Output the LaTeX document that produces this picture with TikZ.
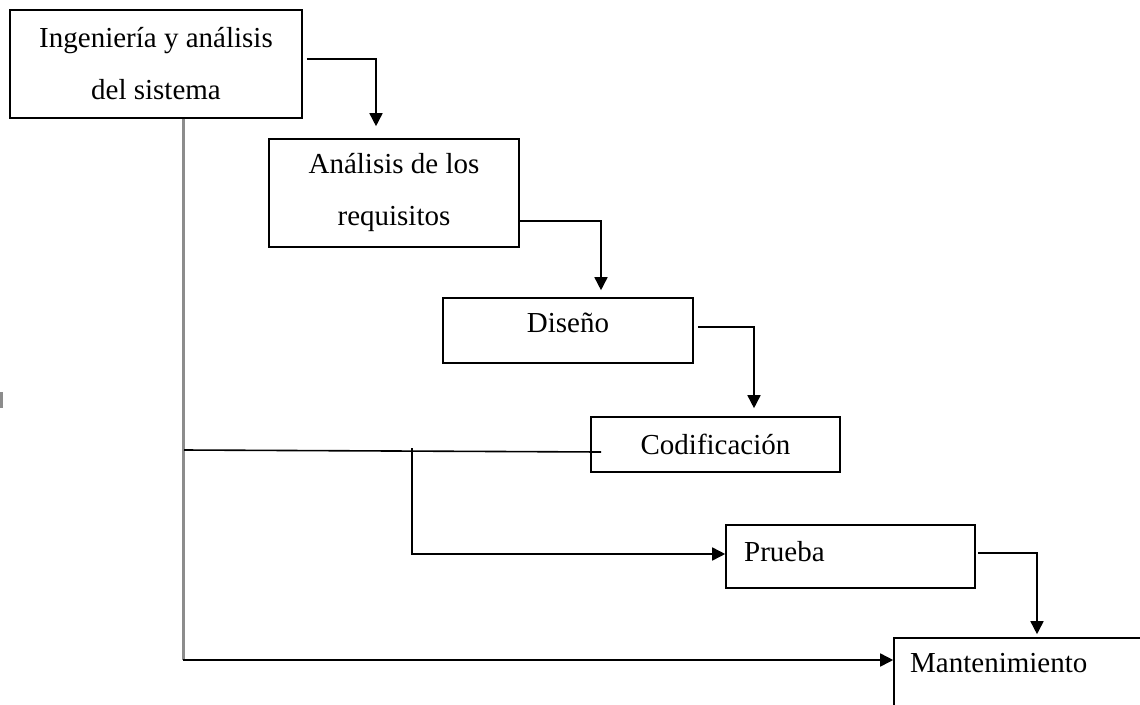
\documentclass[tikz,border=0pt]{standalone}
\usepackage{fontspec}
\setmainfont{Liberation Serif}
\usetikzlibrary{arrows.meta}
\definecolor{linegray}{RGB}{140,140,140}
\begin{document}
\begin{tikzpicture}[x=1pt,y=-1pt,
  box/.style={draw, line width=1.6pt, inner sep=0pt, align=center,
    font=\fontsize{29}{52}\selectfont},
  lbl/.style={inner sep=0pt, font=\fontsize{29}{52}\selectfont},
  arr/.style={-{Triangle[length=13pt,width=13pt]}, line width=1.6pt},
  conn/.style={line width=1.6pt},
  grayline/.style={line width=3pt, draw=linegray}]
\clip (0,0) rectangle (1140,704);
\fill[white] (0,0) rectangle (1140,704);
% boxes
\node[box, minimum width=292pt, minimum height=108pt] (b1) at (156,64) {Ingeniería y análisis\\del sistema};
\node[box, minimum width=250pt, minimum height=108pt] (b2) at (394,193) {Análisis de los\\requisitos};
\node[box, minimum width=250pt, minimum height=65pt] (b3) at (568,330.5) {};
\node[lbl] (t3) at (568,323) {Diseño};
\node[box, minimum width=249pt, minimum height=55pt] (b4) at (715.5,444.5) {Codificación};
\node[box, minimum width=249pt, minimum height=63pt] (b5) at (850.5,556.5) {};
\node[lbl, anchor=west] (t5) at (744,552) {Prueba};
\node[box, minimum width=300pt, minimum height=100pt] (b6) at (1044,688) {};
\node[lbl, anchor=west] (t6) at (910,663) {Mantenimiento};
% cascade arrows
\draw[arr] ([shift={(4,-5)}]b1.east) -| ([shift={(-18,-12)}]b2.north);
\draw[arr] ([shift={(0,28)}]b2.east) -| ([shift={(33,-7)}]b3.north);
\draw[arr] ([shift={(4,-3.5)}]b3.east) -| ([shift={(38.5,-8)}]b4.north);
\draw[arr] ([shift={(2,-3.5)}]b5.east) -| ([shift={(-7,-3)}]b6.north);
% feedback / side lines
\coordinate (c1) at ([xshift=27pt]b1.south |- 0,660);
\draw[grayline] ([xshift=27pt]b1.south) -- (c1);
\draw[arr] (c1) -- (b6.west |- c1);
\coordinate (j1) at (184,450);
\draw[conn] (j1) -- ([shift={(11,7.5)}]b4.west);
\coordinate (j2) at (412,448);
\draw[arr] (j2) |- ([yshift=2.5pt]b5.west);
% edge mark
\fill[linegray] (0,392) rectangle (2.5,408);
\end{tikzpicture}
\end{document}
